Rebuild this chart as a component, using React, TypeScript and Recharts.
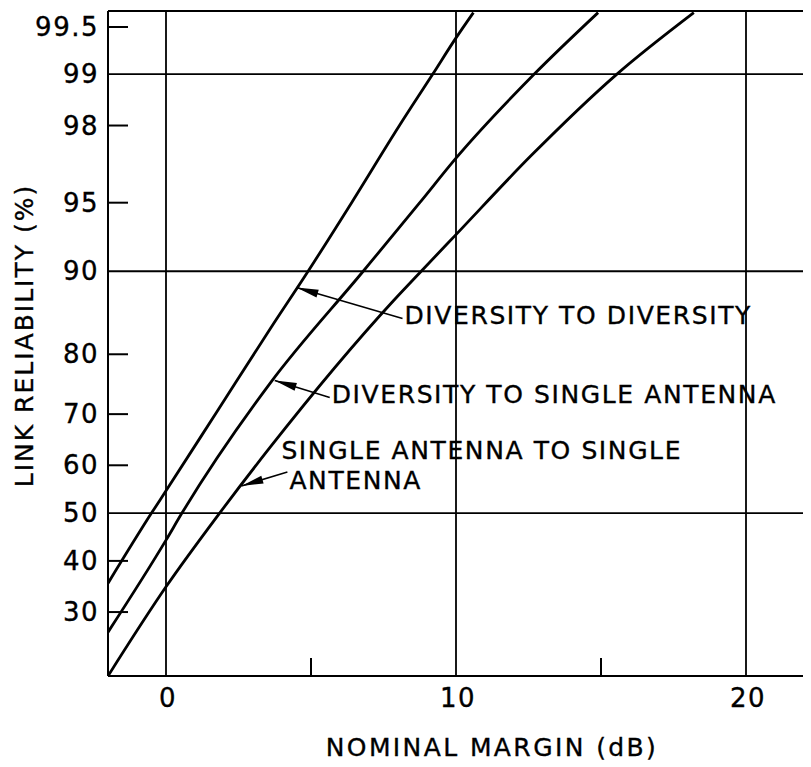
import React from 'react';
import {
  Label,
  Line,
  LineChart,
  ReferenceDot,
  ReferenceLine,
  XAxis,
  YAxis,
} from 'recharts';

const FONT = '"DejaVu Sans", Verdana, sans-serif';

// nominal margin (dB) vs link reliability (%)
const divToDivMargin = [-2, -0.5, 0, 1.75, 3.6, 4.9, 6.4, 8.05, 9.2, 10, 10.6];
const divToDivReliability = [35.5, 50, 54.7, 70.4, 83.6, 90, 95, 98, 99, 99.41, 99.6];

const divToSingleMargin = [-2, 0, 0.55, 3.6, 6.8, 8.75, 10, 12.7, 14.9];
const divToSingleReliability = [26.4, 44.3, 50, 75.5, 90, 95, 97, 99, 99.6];

const singleToSingleMargin = [-2, 0, 1.85, 3.6, 7.85, 8.8, 10, 12.6, 15.55, 18.2];
const singleToSingleReliability = [19.4, 34.8, 50, 63.7, 87, 90, 93, 97.1, 99, 99.6];

const xTicks = [0, 5, 10, 15, 20];
const xTickLabels = ['0', '', '10', '', '20'];
const yTicks = [30, 40, 50, 60, 70, 80, 90, 95, 98, 99, 99.5];
const yTickLabels = ['30', '40', '50', '60', '70', '80', '90', '95', '98', '99', '99.5'];
const xGrid = [0, 10, 20];
const yGrid = [50, 90, 99];
const xRange = [-2, 22];
const yRange = [19.4, 99.61];

const annotationText = [
  ['DIVERSITY TO DIVERSITY'],
  ['DIVERSITY TO SINGLE ANTENNA'],
  ['SINGLE ANTENNA TO SINGLE', 'ANTENNA'],
];
const annotationMargin = [4.5, 3.75, 2.6];
const annotationReliability = [88.4, 75.9, 55.7];

// pixel offsets from the arrow tip
const annotationLayout = [
  { tail: [106, 31], text: [[108, 36]] },
  { tail: [55, 17], text: [[57, 23]] },
  { tail: [46, -14], text: [[40, -27], [48, 3]] },
];

// inverse normal cdf (Acklam) -> probability paper scale
function probit(p: number): number {
  const a = [-39.69683028665376, 220.9460984245205, -275.9285104469687, 138.357751867269, -30.66479806614716, 2.506628277459239];
  const b = [-54.47609879822406, 161.5858368580409, -155.6989798598866, 66.80131188771972, -13.28068155288572];
  const c = [-0.007784894002430293, -0.3223964580411365, -2.400758277161838, -2.549732539343734, 4.374664141464968, 2.938163982698783];
  const d = [0.007784695709041462, 0.3224671290700398, 2.445134137142996, 3.754408661907416];
  const lo = 0.02425;
  if (p < lo) {
    const q = Math.sqrt(-2 * Math.log(p));
    return (((((c[0] * q + c[1]) * q + c[2]) * q + c[3]) * q + c[4]) * q + c[5]) /
      ((((d[0] * q + d[1]) * q + d[2]) * q + d[3]) * q + 1);
  }
  if (p > 1 - lo) {
    const q = Math.sqrt(-2 * Math.log(1 - p));
    return -(((((c[0] * q + c[1]) * q + c[2]) * q + c[3]) * q + c[4]) * q + c[5]) /
      ((((d[0] * q + d[1]) * q + d[2]) * q + d[3]) * q + 1);
  }
  const q = p - 0.5;
  const r = q * q;
  return ((((((a[0] * r + a[1]) * r + a[2]) * r + a[3]) * r + a[4]) * r + a[5]) * q) /
    (((((b[0] * r + b[1]) * r + b[2]) * r + b[3]) * r + b[4]) * r + 1);
}

const z = (pct: number) => probit(pct / 100);

const toSeries = (margin: number[], rel: number[]) =>
  margin.map((m, i) => ({ m, z: z(rel[i]) }));

const series = [
  toSeries(divToDivMargin, divToDivReliability),
  toSeries(divToSingleMargin, divToSingleReliability),
  toSeries(singleToSingleMargin, singleToSingleReliability),
];

const yDomain = [z(yRange[0]), z(yRange[1])];

const textStyle = {
  fontFamily: FONT,
  fontSize: 25,
  letterSpacing: 1.6,
  fill: '#000',
  stroke: '#000',
  strokeWidth: 0.35,
};

const tickStyle = { ...textStyle, fontSize: 26, letterSpacing: 1.5 };

function XTick(props: any) {
  const { x, y, index } = props;
  const base = y - 10;
  const lbl = xTickLabels[index];
  return (
    <g>
      {!lbl && <line x1={x} y1={base} x2={x} y2={base - 18} stroke="#000" strokeWidth={2} />}
      {lbl && (
        <text x={x + 2} y={base + 31} textAnchor="middle" style={tickStyle}>
          {lbl}
        </text>
      )}
    </g>
  );
}

function YTick(props: any) {
  const { x, y, index } = props;
  const edge = x + 9;
  const isGrid = yGrid.includes(yTicks[index]);
  return (
    <g>
      {!isGrid && <line x1={edge} y1={y} x2={edge + 21} y2={y} stroke="#000" strokeWidth={2} />}
      <text x={x + 1} y={y + 9} textAnchor="end" style={tickStyle}>
        {yTickLabels[index]}
      </text>
    </g>
  );
}

function Annotation(props: any) {
  const { cx, cy, idx } = props;
  const lay = annotationLayout[idx];
  const [tx, ty] = lay.tail;
  const len = Math.hypot(tx, ty);
  const ux = tx / len;
  const uy = ty / len;
  const hl = 22;
  const hw = 4;
  const bx = cx + ux * hl;
  const by = cy + uy * hl;
  const pts = `${cx},${cy} ${bx - uy * hw},${by + ux * hw} ${bx + uy * hw},${by - ux * hw}`;
  return (
    <g>
      <line x1={cx} y1={cy} x2={cx + tx} y2={cy + ty} stroke="#000" strokeWidth={1.6} />
      <polygon points={pts} fill="#000" />
      {annotationText[idx].map((t, j) => (
        <text key={j} x={cx + lay.text[j][0]} y={cy + lay.text[j][1]} style={textStyle}>
          {t}
        </text>
      ))}
    </g>
  );
}

export default function App() {
  return (
    <div style={{ width: 800, height: 758, background: '#fff' }}>
      <LineChart width={800} height={758} margin={{ top: 3, right: 4, left: 0, bottom: 0 }}>
        <XAxis
          type="number"
          dataKey="m"
          domain={xRange}
          ticks={xTicks}
          allowDataOverflow
          height={90}
          tickSize={0}
          tickMargin={10}
          axisLine={{ stroke: '#000', strokeWidth: 2 }}
          tickLine={false}
          tick={(p: any) => <XTick {...p} />}
          interval={0}
        >
          <Label
            content={(p: any) => {
              const vb = p.viewBox;
              return (
                <text
                  x={vb.x + vb.width / 2 + 36}
                  y={vb.y + 80}
                  textAnchor="middle"
                  style={{ ...textStyle, letterSpacing: 2.4 }}
                >
                  NOMINAL MARGIN (dB)
                </text>
              );
            }}
          />
        </XAxis>
        <YAxis
          type="number"
          domain={yDomain}
          ticks={yTicks.map(z)}
          allowDataOverflow
          width={100}
          tickSize={0}
          tickMargin={10}
          axisLine={{ stroke: '#000', strokeWidth: 2 }}
          tickLine={false}
          tick={(p: any) => <YTick {...p} />}
          interval={0}
        >
          <Label
            content={(p: any) => {
              const vb = p.viewBox;
              const cx = 25;
              const cy = vb.y + vb.height / 2 - 8;
              return (
                <text
                  x={cx}
                  y={cy}
                  textAnchor="middle"
                  transform={`rotate(-90 ${cx} ${cy})`}
                  style={{ ...textStyle, letterSpacing: 2 }}
                >
                  LINK RELIABILITY (%)
                </text>
              );
            }}
          />
        </YAxis>
        {xGrid.map((v) => (
          <ReferenceLine key={`x${v}`} x={v} stroke="#000" strokeWidth={1.8} />
        ))}
        {yGrid.map((v) => (
          <ReferenceLine key={`y${v}`} y={z(v)} stroke="#000" strokeWidth={1.8} />
        ))}
        <ReferenceLine x={xRange[1]} stroke="#000" strokeWidth={2} />
        <ReferenceLine y={yDomain[1]} stroke="#000" strokeWidth={2} />
        {series.map((s, i) => (
          <Line
            key={i}
            data={s}
            dataKey="z"
            type="monotone"
            stroke="#000"
            strokeWidth={2.8}
            dot={false}
            activeDot={false}
            isAnimationActive={false}
          />
        ))}
        {annotationMargin.map((m, i) => (
          <ReferenceDot
            key={`a${i}`}
            x={m}
            y={z(annotationReliability[i])}
            ifOverflow="visible"
            shape={(p: any) => <Annotation {...p} idx={i} />}
          />
        ))}
      </LineChart>
    </div>
  );
}
